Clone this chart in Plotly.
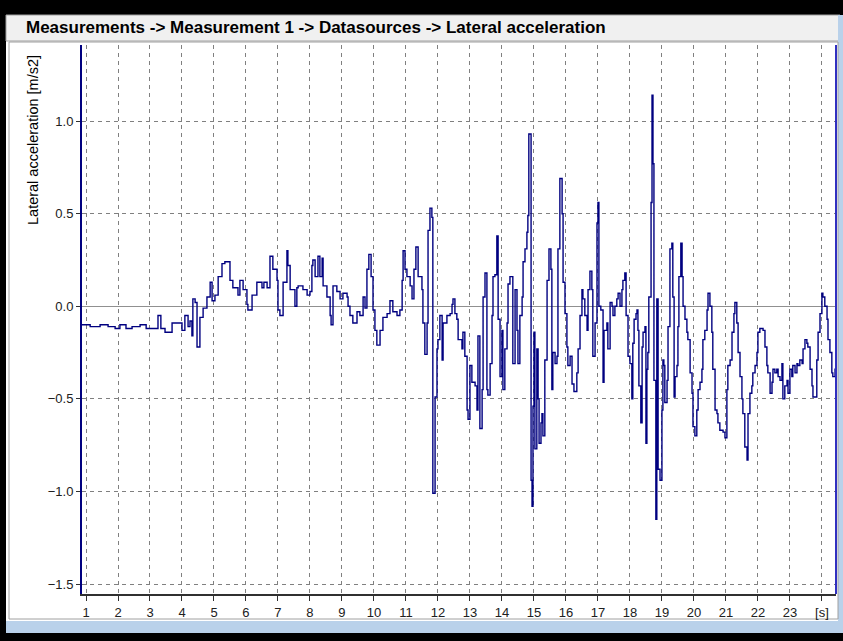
import plotly.graph_objects as go

# ---------------- data ----------------
time_s = [
    0.875, 1.13, 1.44, 1.69, 1.91, 2.06, 2.25, 2.44, 2.69, 2.88,
    3.06, 3.25, 3.34, 3.47, 3.69, 3.94, 4.00, 4.09, 4.19, 4.25,
    4.31, 4.34, 4.41, 4.47, 4.56, 4.66, 4.78, 4.88, 4.94, 5.03,
    5.13, 5.25, 5.34, 5.50, 5.59, 5.75, 5.81, 5.91, 6.03, 6.06,
    6.19, 6.34, 6.50, 6.56, 6.66, 6.75, 6.84, 6.97, 7.00, 7.06,
    7.16, 7.28, 7.31, 7.38, 7.47, 7.53, 7.59, 7.63, 7.78, 7.91,
    8.00, 8.06, 8.09, 8.16, 8.25, 8.31, 8.38, 8.41, 8.53, 8.63,
    8.66, 8.72, 8.84, 8.94, 9.03, 9.16, 9.19, 9.25, 9.34, 9.47,
    9.56, 9.66, 9.72, 9.78, 9.84, 9.91, 9.97, 10.03, 10.09, 10.19,
    10.28, 10.41, 10.50, 10.59, 10.72, 10.81, 10.88, 10.91, 10.97, 11.03,
    11.13, 11.19, 11.25, 11.31, 11.38, 11.50, 11.53, 11.59, 11.66, 11.69,
    11.75, 11.81, 11.84, 11.91, 11.97, 12.00, 12.06, 12.13, 12.16, 12.28,
    12.38, 12.44, 12.47, 12.53, 12.59, 12.63, 12.75, 12.78, 12.84, 12.91,
    12.94, 13.00, 13.06, 13.16, 13.22, 13.25, 13.31, 13.38, 13.41, 13.47,
    13.53, 13.56, 13.63, 13.69, 13.72, 13.78, 13.84, 13.88, 13.94, 14.00,
    14.03, 14.09, 14.16, 14.19, 14.25, 14.34, 14.41, 14.47, 14.50, 14.56,
    14.63, 14.66, 14.72, 14.78, 14.81, 14.84, 14.91, 14.94, 14.97, 15.00,
    15.03, 15.09, 15.13, 15.16, 15.22, 15.25, 15.28, 15.34, 15.41, 15.47,
    15.53, 15.56, 15.59, 15.66, 15.72, 15.75, 15.81, 15.88, 15.91, 15.97,
    16.03, 16.06, 16.13, 16.19, 16.25, 16.34, 16.38, 16.44, 16.50, 16.53,
    16.59, 16.66, 16.69, 16.75, 16.81, 16.84, 16.91, 16.97, 17.00, 17.03,
    17.09, 17.16, 17.19, 17.28, 17.31, 17.38, 17.44, 17.47, 17.53, 17.59,
    17.63, 17.69, 17.75, 17.78, 17.84, 17.88, 17.94, 18.00, 18.06, 18.09,
    18.13, 18.19, 18.22, 18.25, 18.28, 18.34, 18.38, 18.41, 18.47, 18.50,
    18.53, 18.56, 18.59, 18.66, 18.69, 18.72, 18.75, 18.81, 18.84, 18.88,
    18.94, 19.00, 19.03, 19.06, 19.09, 19.16, 19.19, 19.25, 19.31, 19.34,
    19.38, 19.41, 19.47, 19.50, 19.53, 19.59, 19.63, 19.66, 19.72, 19.78,
    19.81, 19.88, 19.94, 19.97, 20.03, 20.09, 20.13, 20.19, 20.25, 20.28,
    20.34, 20.41, 20.44, 20.50, 20.56, 20.59, 20.66, 20.72, 20.75, 20.81,
    20.91, 20.97, 21.03, 21.06, 21.13, 21.19, 21.25, 21.28, 21.34, 21.38,
    21.44, 21.50, 21.53, 21.59, 21.66, 21.69, 21.75, 21.81, 21.84, 21.91,
    21.97, 22.00, 22.06, 22.16, 22.22, 22.28, 22.31, 22.38, 22.44, 22.47,
    22.53, 22.59, 22.63, 22.69, 22.75, 22.78, 22.84, 22.91, 22.94, 23.00,
    23.06, 23.09, 23.16, 23.22, 23.25, 23.31, 23.38, 23.41, 23.47, 23.53,
    23.56, 23.63, 23.69, 23.72, 23.78, 23.84, 23.88, 23.94, 24.00, 24.03,
    24.09, 24.16, 24.19, 24.25, 24.31, 24.34, 24.41, 24.44,
]
lateral_acc = [
    -0.10, -0.11, -0.10, -0.11, -0.12, -0.10, -0.12, -0.11, -0.10, -0.12,
    -0.12, -0.05, -0.12, -0.14, -0.09, -0.09, -0.13, -0.05, -0.11, -0.08,
    -0.16, 0.04, 0.02, -0.22, -0.06, -0.01, 0.05, 0.13, 0.03, 0.06,
    0.16, 0.23, 0.24, 0.14, 0.10, 0.06, 0.14, 0.09, 0.01, -0.02,
    0.06, 0.13, 0.10, 0.13, 0.10, 0.27, 0.20, 0.14, -0.02, -0.05,
    0.13, 0.30, 0.22, 0.09, 0.09, 0.00, 0.10, 0.11, 0.09, 0.06,
    0.08, 0.22, 0.25, 0.16, 0.27, 0.16, 0.26, 0.11, 0.05, -0.05,
    -0.10, 0.11, 0.08, 0.04, 0.07, 0.05, 0.00, -0.05, -0.09, -0.03,
    -0.05, 0.05, -0.01, 0.20, 0.28, 0.16, -0.02, -0.13, -0.21, -0.13,
    -0.06, -0.04, 0.03, -0.03, -0.05, -0.02, 0.14, 0.30, 0.20, 0.16,
    0.11, 0.04, 0.20, 0.32, 0.16, 0.09, -0.09, -0.26, -0.09, 0.41,
    0.53, 0.48, -1.01, -0.49, -0.23, -0.18, -0.05, -0.29, -0.09, -0.05,
    -0.04, 0.01, 0.04, -0.04, -0.07, -0.18, -0.23, -0.14, -0.27, -0.56,
    -0.61, -0.32, -0.41, -0.43, -0.56, -0.16, -0.66, -0.45, 0.05, 0.18,
    -0.45, -0.48, -0.31, -0.05, 0.16, 0.17, 0.38, -0.07, -0.38, -0.13,
    -0.45, -0.23, -0.09, 0.12, 0.16, -0.31, 0.09, -0.13, -0.31, -0.05,
    0.05, 0.24, 0.31, 0.40, 0.49, 0.93, -0.94, -1.08, -0.54, -0.14,
    -0.77, -0.23, -0.50, -0.74, -0.63, -0.58, -0.70, -0.29, 0.14, 0.31,
    0.20, -0.45, -0.25, -0.31, -0.27, 0.31, 0.69, 0.50, 0.13, -0.04,
    -0.22, -0.32, -0.27, -0.42, -0.46, -0.36, -0.23, -0.05, 0.09, 0.04,
    -0.05, -0.13, 0.09, 0.19, 0.09, -0.27, -0.09, 0.45, 0.56, 0.00,
    -0.02, -0.41, -0.13, -0.09, -0.23, 0.02, 0.00, -0.05, 0.00, 0.04,
    0.07, 0.00, 0.09, 0.14, 0.18, -0.05, -0.27, -0.31, -0.50, -0.20,
    -0.07, -0.04, -0.02, -0.13, -0.43, -0.63, -0.22, -0.14, -0.11, -0.74,
    -0.34, -0.25, 0.05, 0.56, 1.14, 0.77, -0.40, -1.15, 0.04, -0.88,
    -0.94, -0.56, -0.29, -0.32, -0.52, -0.40, -0.11, 0.31, 0.34, 0.05,
    -0.49, -0.38, -0.32, -0.11, 0.16, 0.34, 0.16, 0.00, -0.07, -0.14,
    -0.18, -0.36, -0.47, -0.65, -0.70, -0.56, -0.45, -0.41, -0.34, -0.18,
    -0.13, -0.02, 0.07, 0.00, -0.14, -0.34, -0.56, -0.58, -0.63, -0.67,
    -0.68, -0.71, -0.45, -0.32, -0.29, -0.14, -0.04, 0.02, -0.09, -0.25,
    -0.38, -0.50, -0.58, -0.76, -0.83, -0.58, -0.47, -0.43, -0.36, -0.32,
    -0.25, -0.14, -0.12, -0.13, -0.22, -0.32, -0.36, -0.47, -0.41, -0.34,
    -0.36, -0.34, -0.38, -0.40, -0.31, -0.50, -0.43, -0.40, -0.47, -0.34,
    -0.38, -0.32, -0.36, -0.31, -0.32, -0.29, -0.31, -0.23, -0.18, -0.20,
    -0.22, -0.34, -0.43, -0.49, -0.49, -0.29, -0.14, -0.04, 0.07, 0.05,
    0.00, -0.07, -0.18, -0.25, -0.36, -0.38, -0.34, -0.31,
]

x_tick_vals = list(range(1, 25))
x_tick_text = [str(v) for v in range(1, 24)] + ["[s]"]
y_tick_vals = [-1.5, -1.0, -0.5, 0.0, 0.5, 1.0]

title_text = "Measurements -> Measurement 1 -> Datasources -> Lateral acceleration"
y_title = "Lateral acceleration [m/s2]"

# ---------------- layout geometry ----------------
W, H = 843, 641
PL, PR, PT, PB = 82, 836, 45, 594   # plot-area pixel box


def fx(px):
    return (px - PL) / (PR - PL)


def fy(py):
    return (PB - py) / (PB - PT)


fig = go.Figure()
fig.add_trace(go.Scatter(
    x=time_s, y=lateral_acc, mode="lines", line_shape="hv",
    line=dict(color="#000080", width=1.4), hoverinfo="skip", showlegend=False,
))

shapes = []


def rect(x0, y0, x1, y1, color, line=None):
    shapes.append(dict(type="rect", xref="paper", yref="paper",
                       x0=fx(x0), x1=fx(x1), y0=fy(y1), y1=fy(y0),
                       fillcolor=color, line=line or dict(width=0), layer="below"))


# window frame pieces
rect(0, 0, W, 15, "#000000")
rect(0, 0, 6, H, "#000000")
rect(0, 633, W, H, "#000000")
rect(6, 15, 840, 41, "#f0f0f0", dict(color="#a0a0a0", width=1))
rect(838, 15, W, 633, "#b9d1ea")
rect(6, 621, 840, 633, "#b9d1ea")
rect(9, 42, 838, 619, "#ffffff", dict(color="#a0a0a0", width=1))

# right border of plot
shapes.append(dict(type="line", xref="paper", yref="paper", x0=1, x1=1, y0=0, y1=1,
                   line=dict(color="#3030c0", width=2), layer="above"))

annotations = [
    dict(text=f"<b>{title_text}</b>", xref="paper", yref="paper",
         x=fx(24), y=fy(28), xanchor="left", yanchor="middle", showarrow=False,
         font=dict(family="Liberation Sans", size=17, color="#000000")),
    dict(text=y_title, xref="paper", yref="paper", x=fx(33), y=fy(53),
         xanchor="center", yanchor="top", textangle=-90, showarrow=False,
         font=dict(family="Liberation Sans", size=14.5, color="#000000")),
]

fig.update_layout(
    width=W, height=H, autosize=False,
    margin=dict(l=PL, r=W - PR, t=PT, b=H - PB, pad=0),
    paper_bgcolor="#ffffff", plot_bgcolor="#ffffff",
    shapes=shapes, annotations=annotations,
    font=dict(family="Liberation Sans", size=13, color="#202020"),
    xaxis=dict(
        range=[0.875, 24.44], tickmode="array", tickvals=x_tick_vals, ticktext=x_tick_text,
        showgrid=True, gridcolor="#808080", griddash="4px,4px", gridwidth=1,
        zeroline=False, showline=True, linecolor="#303030", linewidth=2,
        ticks="outside", ticklen=5, tickcolor="#303030", tickwidth=1,
        tickfont=dict(size=13, color="#202020"), fixedrange=True,
    ),
    yaxis=dict(
        range=[-1.554, 1.411], tickmode="array", tickvals=y_tick_vals, tickformat=".1f",
        showgrid=True, gridcolor="#808080", griddash="4px,4px", gridwidth=1,
        zeroline=True, zerolinecolor="#909090", zerolinewidth=1,
        showline=True, linecolor="#000080", linewidth=2,
        ticks="outside", ticklen=4, tickcolor="#303030", tickwidth=1,
        tickfont=dict(size=13, color="#202020"), fixedrange=True,
    ),
)

fig.write_html("out.html", config={"displayModeBar": False},
               post_script="document.body.style.margin='0';")
